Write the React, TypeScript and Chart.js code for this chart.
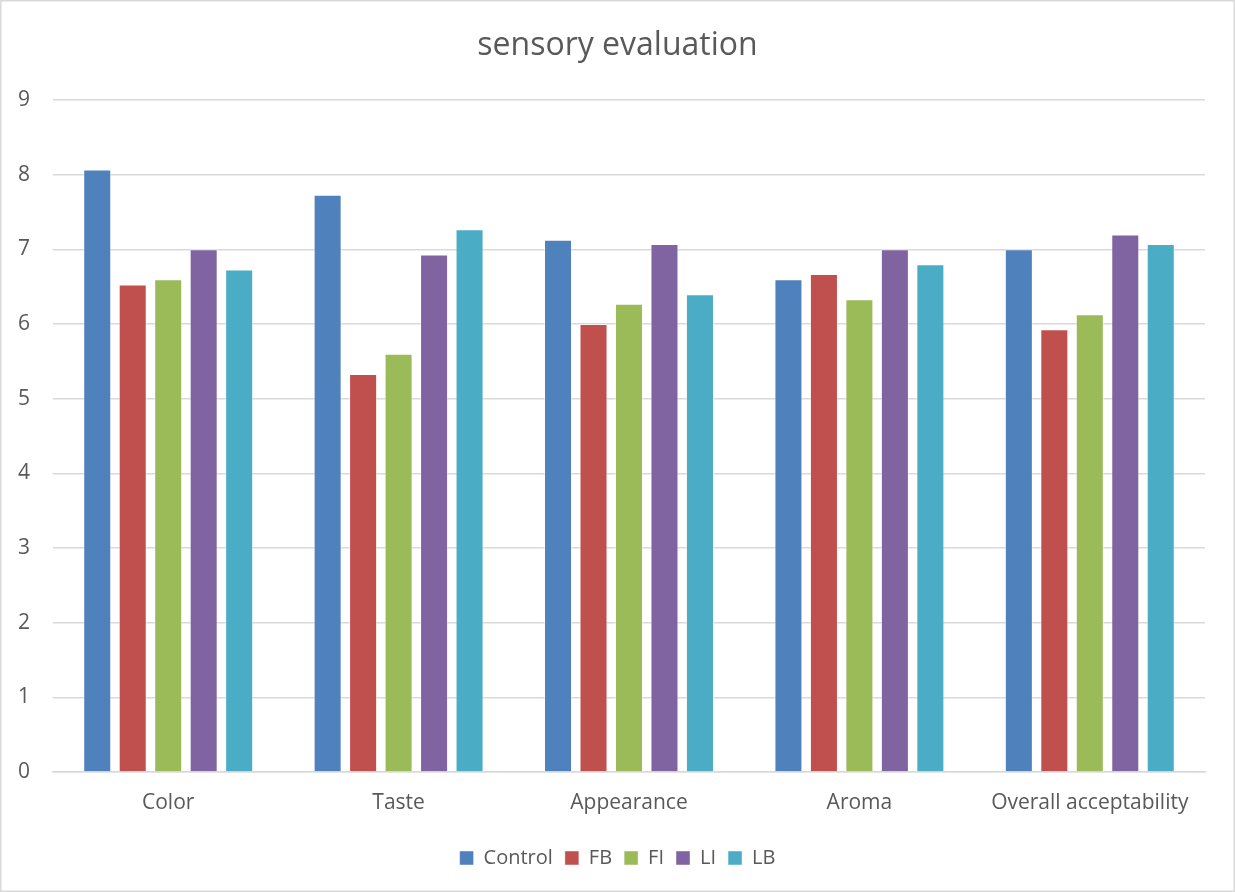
import React, { useEffect, useRef } from "react";
import { Chart, registerables } from "chart.js";

Chart.register(...registerables);

const categories = ["Color", "Taste", "Appearance", "Aroma", "Overall acceptability"];
const seriesNames = ["Control", "FB", "FI", "LI", "LB"];
const control = [8.07, 7.73, 7.13, 6.6, 7.0];
const fb = [6.53, 5.33, 6.0, 6.67, 5.93];
const fi = [6.6, 5.6, 6.27, 6.33, 6.13];
const li = [7.0, 6.93, 7.07, 7.0, 7.2];
const lb = [6.73, 7.27, 6.4, 6.8, 7.07];
const colors = ["#4F81BD", "#C0504D", "#9BBB59", "#8064A2", "#4BACC6"];
const yTicks = [0, 1, 2, 3, 4, 5, 6, 7, 8, 9];

const FONT = "'Open Sans', sans-serif";

const frame = {
  id: "frame",
  beforeDraw(chart: any) {
    const { ctx, width, height } = chart;
    ctx.save();
    ctx.fillStyle = "#ffffff";
    ctx.fillRect(0, 0, width, height);
    ctx.strokeStyle = "#d9d9d9";
    ctx.lineWidth = 1.5;
    ctx.strokeRect(0.75, 0.75, width - 1.5, height - 1.5);
    ctx.restore();
  },
};

export default function App() {
  const ref = useRef<HTMLCanvasElement | null>(null);
  useEffect(() => {
    document.body.style.margin = "0";
    const values = [control, fb, fi, li, lb];
    const chart = new Chart(ref.current!, {
      type: "bar",
      data: {
        labels: categories,
        datasets: seriesNames.map((n, i) => ({
          label: n,
          data: values[i],
          backgroundColor: colors[i],
          borderColor: "rgba(255,255,255,0.45)",
          borderWidth: 1,
          categoryPercentage: 0.77,
          barPercentage: 0.79,
        })),
      },
      options: {
        responsive: false,
        animation: false,
        maintainAspectRatio: false,
        layout: { padding: { left: 0, right: 0, top: 0, bottom: 14 } },
        plugins: {
          title: {
            display: true,
            text: "sensory evaluation",
            color: "#595959",
            font: { family: FONT, size: 32, weight: "normal" },
            padding: { top: 27, bottom: 34.6 },
          },
          legend: {
            position: "bottom",
            labels: {
              boxWidth: 14,
              boxHeight: 14,
              padding: 12,
              color: "#595959",
              font: { family: FONT, size: 20 },
            },
          },
          tooltip: { enabled: false },
        },
        scales: {
          x: {
            grid: { display: false, drawTicks: false },
            border: { display: true, color: "#d9d9d9", width: 1.5 },
            ticks: {
              color: "#595959",
              font: { family: FONT, size: 21 },
              padding: 18,
              maxRotation: 0,
              autoSkip: false,
            },
            afterFit(scale: any) {
              scale.height = 64;
            },
          },
          y: {
            min: 0,
            max: 9,
            afterBuildTicks(scale: any) {
              scale.ticks = yTicks.map((v) => ({ value: v }));
            },
            grid: { color: "#d9d9d9", lineWidth: 1.5, drawTicks: false },
            border: { display: false },
            ticks: {
              color: "#595959",
              font: { family: FONT, size: 21 },
              padding: 23,
            },
            afterFit(scale: any) {
              scale.width = 53;
            },
          },
          spacer: {
            type: "linear",
            position: "right",
            display: true,
            grid: { display: false, drawTicks: false },
            border: { display: false },
            ticks: { display: false },
            afterFit(scale: any) {
              scale.width = 30;
            },
          },
        },
      },
      plugins: [frame],
    });
    return () => chart.destroy();
  }, []);
  return <canvas ref={ref} width={1235} height={892} style={{ display: "block" }} />;
}
